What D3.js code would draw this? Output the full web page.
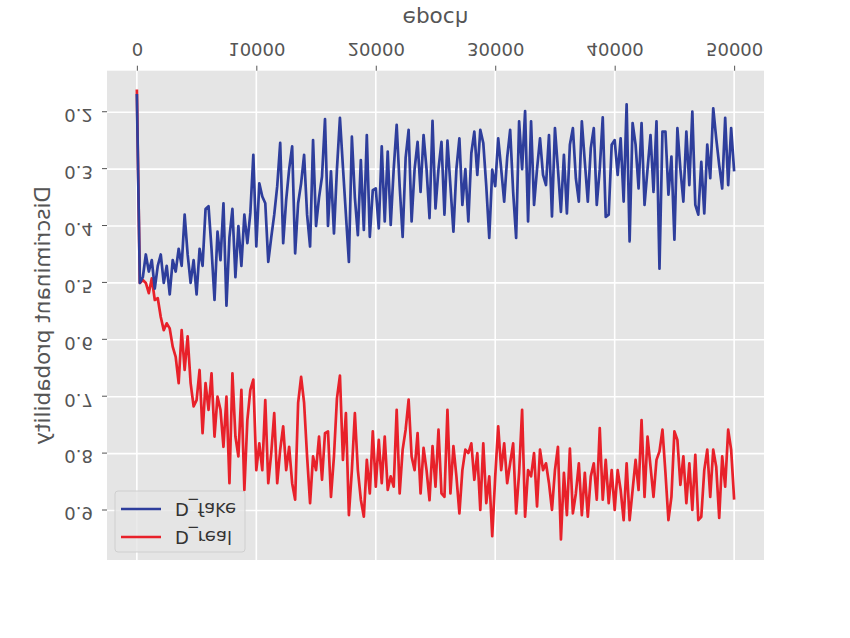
<!DOCTYPE html>
<html><head><meta charset="utf-8">
<script src="https://cdn.jsdelivr.net/npm/d3@7"></script>
<style>body{margin:0;background:#fff}</style>
</head><body>
<svg id="chart" width="850" height="638"></svg>
<script>
const epochs = d3.range(0, 50001, 250);
const dFake = [
0.168,0.50,0.49,0.45,0.48,0.46,0.51,0.47,0.45,0.50,
0.47,0.52,0.46,0.48,0.44,0.47,0.38,0.45,0.50,0.46,
0.52,0.44,0.47,0.37,0.365,0.44,0.53,0.41,0.46,0.36,
0.54,0.42,0.37,0.49,0.40,0.47,0.38,0.43,0.377,0.275,
0.436,0.325,0.348,0.36,0.463,0.42,0.38,0.33,0.254,0.43,
0.354,0.30,0.26,0.448,0.36,0.325,0.275,0.38,0.436,0.249,
0.40,0.35,0.313,0.212,0.40,0.304,0.413,0.30,0.21,0.296,
0.38,0.463,0.243,0.35,0.416,0.284,0.407,0.24,0.419,0.337,
0.334,0.404,0.260,0.392,0.269,0.398,0.30,0.222,0.33,0.419,
0.28,0.231,0.392,0.30,0.252,0.34,0.24,0.30,0.386,0.215,
0.369,0.30,0.252,0.38,0.25,0.33,0.41,0.30,0.246,0.363,
0.30,0.392,0.272,0.234,0.31,0.231,0.254,0.33,0.421,0.301,
0.33,0.246,0.30,0.357,0.28,0.231,0.34,0.421,0.216,0.30,
0.198,0.392,0.216,0.363,0.30,0.246,0.31,0.328,0.240,0.383,
0.228,0.30,0.375,0.275,0.378,0.257,0.228,0.316,0.357,0.216,
0.287,0.357,0.263,0.228,0.363,0.30,0.209,0.384,0.380,0.257,
0.249,0.310,0.246,0.357,0.186,0.427,0.219,0.257,0.334,0.219,
0.363,0.30,0.240,0.340,0.216,0.475,0.234,0.234,0.345,0.278,
0.424,0.228,0.30,0.357,0.234,0.328,0.199,0.363,0.380,0.287,
0.378,0.257,0.316,0.193,0.246,0.293,0.334,0.210,0.328,0.228,
0.304];
const dReal = [
0.160,0.50,0.495,0.50,0.518,0.492,0.530,0.527,0.56,0.583,
0.571,0.58,0.612,0.63,0.676,0.583,0.653,0.594,0.676,0.717,
0.706,0.653,0.764,0.676,0.723,0.659,0.770,0.700,0.723,0.788,
0.700,0.852,0.659,0.770,0.805,0.688,0.864,0.741,0.688,0.670,
0.829,0.782,0.829,0.706,0.852,0.799,0.729,0.852,0.793,0.752,
0.829,0.788,0.852,0.881,0.711,0.665,0.711,0.805,0.887,0.805,
0.829,0.770,0.846,0.764,0.761,0.876,0.805,0.703,0.663,0.811,
0.729,0.908,0.829,0.729,0.829,0.881,0.911,0.811,0.870,0.761,
0.858,0.776,0.852,0.770,0.864,0.840,0.858,0.723,0.870,0.793,
0.758,0.705,0.805,0.829,0.764,0.870,0.790,0.829,0.882,0.787,
0.858,0.758,0.870,0.876,0.723,0.870,0.787,0.840,0.905,0.829,
0.793,0.799,0.782,0.846,0.799,0.899,0.782,0.887,0.840,0.945,
0.840,0.752,0.829,0.782,0.852,0.817,0.782,0.905,0.834,0.723,
0.911,0.829,0.840,0.799,0.893,0.793,0.829,0.817,0.852,0.899,
0.829,0.788,0.951,0.834,0.908,0.791,0.905,0.870,0.817,0.908,
0.834,0.911,0.840,0.817,0.881,0.755,0.881,0.811,0.887,0.829,
0.899,0.829,0.864,0.917,0.817,0.917,0.864,0.811,0.864,0.741,
0.876,0.770,0.823,0.876,0.811,0.796,0.758,0.834,0.917,0.876,
0.761,0.776,0.855,0.805,0.887,0.817,0.899,0.802,0.917,0.911,
0.829,0.793,0.876,0.793,0.823,0.913,0.805,0.858,0.758,0.793,
0.881];
const xTicks = [0,10000,20000,30000,40000,50000];
const yTicks = [0.2,0.3,0.4,0.5,0.6,0.7,0.8,0.9];
const seriesNames = ["D_real","D_fake"];
const seriesColors = ["#e8212a","#2e3e9c"];
const xLabel = "epoch";
const yLabel = "Discriminant probability";

const FONT = "DejaVu Sans, sans-serif";
const svg = d3.select("#chart");
// The reference is a vertically mirrored image: draw the chart normally, then flip it.
const g = svg.append("g").attr("transform","translate(0,638) scale(1,-1)");
const L=107, R=764, T=78, B=567.3;
const x = d3.scaleLinear().domain([-2500,52500]).range([L,R]);
const y = d3.scaleLinear().domain([0.127,0.987]).range([B,T]);

g.append("rect").attr("x",L).attr("y",T).attr("width",R-L).attr("height",B-T).attr("fill","#e5e5e5");
g.append("g").selectAll("line").data(xTicks).join("line")
  .attr("x1",d=>x(d)).attr("x2",d=>x(d)).attr("y1",T).attr("y2",B)
  .attr("stroke","#fff").attr("stroke-width",1.6);
g.append("g").selectAll("line").data(yTicks).join("line")
  .attr("y1",d=>y(d)).attr("y2",d=>y(d)).attr("x1",L).attr("x2",R)
  .attr("stroke","#fff").attr("stroke-width",1.6);

const xAxis = g.append("g").attr("transform",`translate(0,${B})`)
  .call(d3.axisBottom(x).tickValues(xTicks).tickFormat(d3.format("d")).tickSize(5).tickPadding(10));
const yAxis = g.append("g").attr("transform",`translate(${L},0)`)
  .call(d3.axisLeft(y).tickValues(yTicks).tickFormat(d3.format(".1f")).tickSize(5).tickPadding(9));
[xAxis,yAxis].forEach(a=>{
  a.select(".domain").remove();
  a.selectAll(".tick line").attr("stroke","#555").attr("stroke-width",1);
  a.selectAll(".tick text").attr("fill","#555").style("font-family",FONT).style("font-size","18px");
});
yAxis.selectAll(".tick text").attr("dy","0.15em");

const line = d3.line().x((d,i)=>x(epochs[i])).y(d=>y(d));
[dReal,dFake].forEach((s,k)=>{
  g.append("path").datum(s).attr("d",line).attr("fill","none")
   .attr("stroke",seriesColors[k]).attr("stroke-width",2.7).attr("stroke-linejoin","round");
});

g.append("text").attr("x",(L+R)/2).attr("y",627).attr("text-anchor","middle")
  .attr("fill","#555").style("font-family",FONT).style("font-size","21.6px").text(xLabel);
g.append("text").attr("transform",`translate(50,${(T+B)/2}) rotate(-90)`).attr("text-anchor","middle")
  .attr("fill","#555").style("font-family",FONT).style("font-size","21.6px").text(yLabel);

const lg = g.append("g");
lg.append("rect").attr("x",115).attr("y",86).attr("width",130).attr("height",61).attr("rx",3)
  .attr("fill","#e5e5e5").attr("fill-opacity",0.8).attr("stroke","#cfcfcf");
seriesNames.forEach((n,k)=>{
  const yy = 101 + k*28;
  lg.append("line").attr("x1",121).attr("x2",161).attr("y1",yy).attr("y2",yy)
    .attr("stroke",seriesColors[k]).attr("stroke-width",2.7);
  lg.append("text").attr("x",175).attr("y",yy+6.5).attr("fill","#333")
    .style("font-family",FONT).style("font-size","18px").text(n);
});
</script>
</body></html>
